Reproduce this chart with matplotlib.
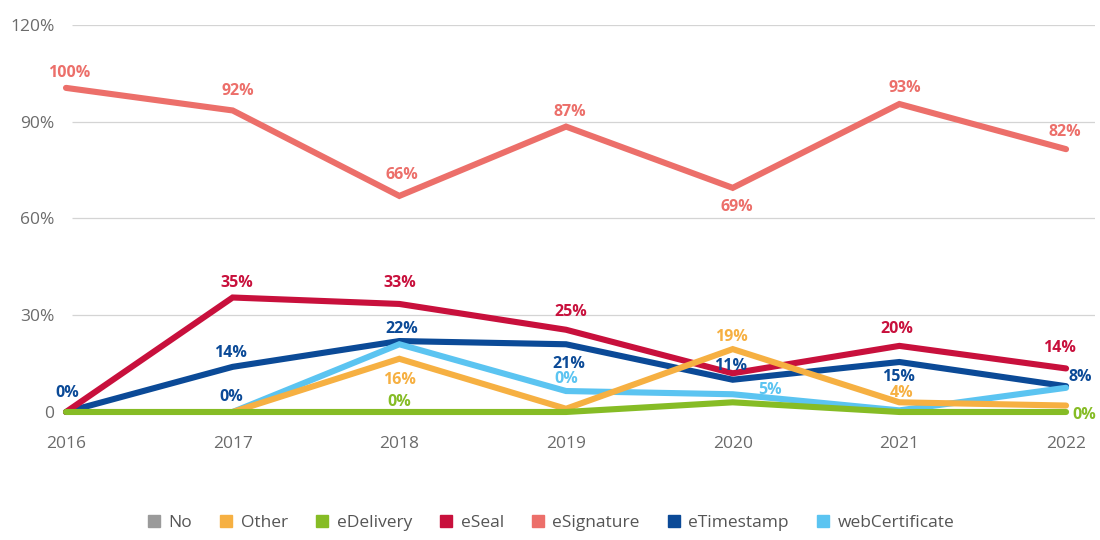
import numpy as np
import matplotlib.pyplot as plt
from matplotlib.lines import Line2D

plt.rcParams['font.family'] = ['Open Sans', 'DejaVu Sans']

# Data (share of cases, %)
years = [2016, 2017, 2018, 2019, 2020, 2021, 2022]
no_vals = [np.nan] * 7  # in legend only, nothing drawn
other_vals = [np.nan, 0, 16.5, 1, 19.5, 3, 2]
edelivery_vals = [0, 0, 0, 0, 3, 0, 0]
eseal_vals = [0, 35.5, 33.5, 25.5, 12, 20.5, 13.5]
esignature_vals = [100.5, 93.5, 67, 88.5, 69.5, 95.5, 81.5]
etimestamp_vals = [0, 14, 22, 21, 10, 15.5, 8]
webcert_vals = [np.nan, 0, 21, 6.5, 5.5, 0.5, 7.5]

# Data labels as printed on the chart (None = no label)
esignature_lbl = [100, 92, 66, 87, 69, 93, 82]
eseal_lbl = [None, 35, 33, 25, None, 20, 14]
etimestamp_lbl = [0, 14, 22, 21, 11, 15, 8]
webcert_lbl = [None, None, None, 0, 5, None, None]
other_lbl = [None, None, 16, None, 19, 4, None]
edelivery_lbl = [None, None, 0, None, None, None, 0]

yticks = [0, 30, 60, 90, 120]
ytick_labels = ['0', '30%', '60%', '90%', '120%']

colors = {
    'No': '#9a9a9a',
    'Other': '#F6B042',
    'eDelivery': '#86BC25',
    'eSeal': '#C8103C',
    'eSignature': '#EC6F6A',
    'eTimestamp': '#0B4A97',
    'webCertificate': '#5BC4F1',
}

fig = plt.figure(figsize=(11, 5.4), dpi=100)
ax = fig.add_axes([60 / 1100, 0.2278, 1035 / 1100, 0.7259])

ax.set_xlim(2016 - 6 / 167, 2022 + 29 / 167)
ax.set_ylim(-5 / 3.225, 120)

# gridlines
ax.hlines(yticks[1:], 2016 + 6 / 167, 2022 + 29 / 167, colors='#d4d4d4', lw=0.9, zorder=0)

lw = 4.4
series = [
    ('No', no_vals),
    ('eSignature', esignature_vals),
    ('eTimestamp', etimestamp_vals),
    ('eSeal', eseal_vals),
    ('webCertificate', webcert_vals),
    ('Other', other_vals),
    ('eDelivery', edelivery_vals),
]
for z, (name, vals) in enumerate(series):
    ax.plot(years, vals, color=colors[name], lw=lw, solid_capstyle='round',
            solid_joinstyle='miter', zorder=2 + z, clip_on=False)

# label offsets in pixels (dx, dy)
label_sets = [
    ('eSignature', esignature_vals, esignature_lbl,
     [(3, 15), (5, 19), (3, 21), (4, 15), (4, -19), (5, 16), (-1, 17)]),
    ('eSeal', eseal_vals, eseal_lbl,
     [None, (4, 15), (0, 21), (5, 18), None, (-3, 17), (-7, 20)]),
    ('eTimestamp', etimestamp_vals, etimestamp_lbl,
     [(1, 19), (-2, 14), (2, 12), (3, -20), (-2, 14), (-1, -15), (14, 9)]),
    ('webCertificate', webcert_vals, webcert_lbl,
     [None, None, None, (0, 12), (37, 4), None, None]),
    ('Other', other_vals, other_lbl,
     [None, None, (0, -21), None, (-1, 12), (2, 9), None]),
    ('eDelivery', edelivery_vals, edelivery_lbl,
     [None, None, (0, 10), None, None, None, (18, -3)]),
]
for name, vals, lbls, offs in label_sets:
    for x, v, lb, off in zip(years, vals, lbls, offs):
        if lb is None:
            continue
        ax.annotate(f'{lb}%', (x, v), xytext=off, textcoords='offset pixels',
                    ha='center', va='center', color=colors[name],
                    fontsize=11.5, fontweight='bold', zorder=20)

# extra "0%" label at 2017 printed in eTimestamp colour on the baseline
ax.annotate('0%', (2017, webcert_vals[1]), xytext=(-1, 15), textcoords='offset pixels',
            ha='center', va='center', color=colors['eTimestamp'],
            fontsize=11.5, fontweight='bold', zorder=20)

ax.set_yticks(yticks)
ax.set_yticklabels(ytick_labels)
ax.set_xticks(years)
ax.set_xticklabels([str(y) for y in years])
ax.tick_params(axis='both', length=0, labelsize=12.5, labelcolor='#6b6b6b')
ax.tick_params(axis='x', pad=14)
ax.tick_params(axis='y', pad=4)
for s in ax.spines.values():
    s.set_visible(False)

handles = [Line2D([], [], marker='s', linestyle='none', markersize=8,
                  color=colors[n]) for n in colors]
fig.legend(handles, list(colors.keys()), loc='center', bbox_to_anchor=(551 / 1100, 1 - 523 / 540),
           ncol=7, frameon=False, fontsize=12.5, labelcolor='#555555',
           handlelength=0.7, handletextpad=0.5, columnspacing=1.6)

fig.savefig('out.png', dpi=100)
